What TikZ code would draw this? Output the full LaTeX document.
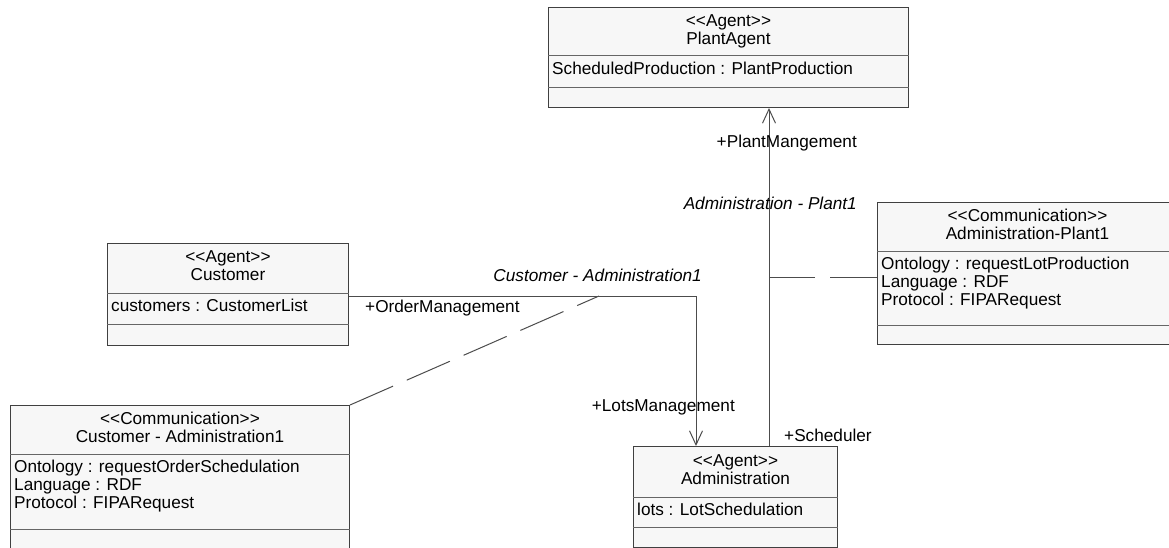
\documentclass[tikz,border=0pt]{standalone}
\usepackage{fontspec}
\setmainfont{Liberation Sans}
\usetikzlibrary{arrows.meta,calc}
\newcommand{\umlfont}{\fontsize{17.2}{18}\selectfont}
\tikzset{
  classbox/.style={draw=black!75, fill=black!3, line width=1pt, inner sep=0pt, rectangle},
  sepline/.style={draw=black!60, line width=1pt},
  titletext/.style={inner sep=0pt, align=center, font=\umlfont},
  attrtext/.style={inner sep=0pt, align=left, anchor=north west, font=\umlfont},
  lbl/.style={inner sep=0pt, font=\umlfont},
  ilbl/.style={inner sep=0pt, font=\umlfont\itshape},
  assoc/.style={draw=black!70, line width=1pt},
  navarrow/.style={-{Straight Barb[length=14pt,width=13pt]}},
  commlink/.style={draw=black!70, line width=1pt, dash pattern=on 47pt off 15pt},
}
% name, x, y, width, height, sep1, sep2, title, attributes
\newcommand{\umlclass}[9]{%
  \node[classbox, minimum width=#4pt, minimum height=#5pt, anchor=north west] (#1) at (#2,#3) {};
  \draw[sepline] ($(#1.north west)+(0,#6)$) -- ($(#1.north east)+(0,#6)$);
  \draw[sepline] ($(#1.north west)+(0,#7)$) -- ($(#1.north east)+(0,#7)$);
  \node[titletext] (#1-t) at ($(#1.north)+(0,#6/2)$) {#8};
  \node[attrtext] (#1-a) at ($(#1.north west)+(4,#6+6)$) {#9};
}
\begin{document}
\begin{tikzpicture}[x=1pt, y=-1pt]
\useasboundingbox (0,0) rectangle (1169,548);
\clip (0,0) rectangle (1169,548);

\umlclass{plant}{548}{7}{360}{100}{49}{81}
  {\strut <{}<Agent>{}>\\\strut PlantAgent}
  {\strut ScheduledProduction : PlantProduction}
\umlclass{cust}{107}{243}{241}{102}{50}{81}
  {\strut <{}<Agent>{}>\\\strut Customer}
  {\strut customers : CustomerList}
\umlclass{cc}{10}{405}{339}{170}{49}{124}
  {\strut <{}<Communication>{}>\\\strut Customer - Administration1}
  {\strut Ontology : requestOrderSchedulation\\\strut Language : RDF\\\strut Protocol : FIPARequest}
\umlclass{admin}{633}{446}{204}{101}{51}{81}
  {\strut <{}<Agent>{}>\\\strut Administration}
  {\strut lots : LotSchedulation}
\umlclass{ap}{877}{202}{300}{142}{49}{123}
  {\strut <{}<Communication>{}>\\\strut Administration-Plant1}
  {\strut Ontology : requestLotProduction\\\strut Language : RDF\\\strut Protocol : FIPARequest}

% associations
\draw[assoc, navarrow] ($(admin.north west)+(136,0)$) -- ($(plant.south west)+(221,0)$);
\draw[assoc, navarrow] ($(cust.north east)+(0,53)$) -| ($(admin.north west)+(63,0)$);

% association-class links
\coordinate (cuj) at ($(cust.north east)+(250,53)$);
\coordinate (apj) at ($(admin.north west)+(136,-169)$);
\draw[commlink] (cc.north east) -- (cuj);
\draw[commlink] ($(ap.north west)+(0,75)$) -- (apj);

% labels
\node[lbl, anchor=east] (lpm) at (857,143) {+PlantMangement};
\node[ilbl, anchor=east] (lap) at (857,203) {Administration - Plant1};
\node[ilbl, anchor=east] (lca) at (702,275) {Customer - Administration1};
\node[lbl, anchor=west] (lom) at (365,308) {+OrderManagement};
\node[lbl, anchor=east] (llm) at (735,407) {+LotsManagement};
\node[lbl, anchor=west] (lsc) at (784,435) {+Scheduler};
\end{tikzpicture}
\end{document}
